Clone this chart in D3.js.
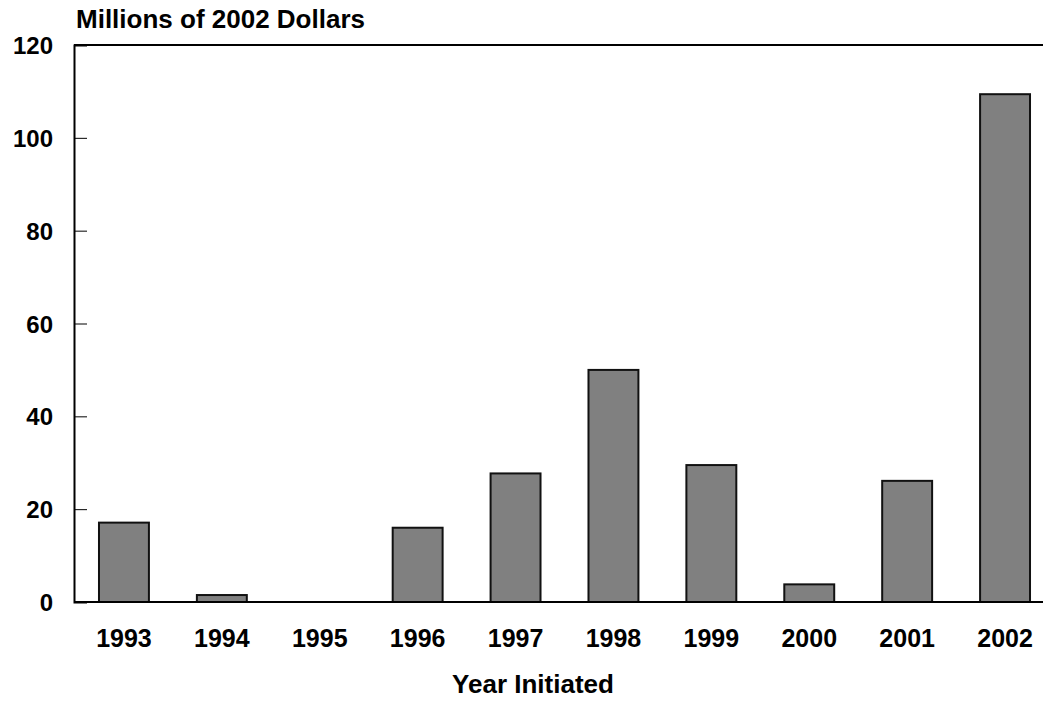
<!DOCTYPE html>
<html>
<head>
<meta charset="utf-8">
<script src="https://cdn.jsdelivr.net/npm/d3@7"></script>
<style>
  html, body { margin: 0; padding: 0; background: #fff; }
  svg { display: block; }
  text { font-family: "Liberation Sans", Arial, sans-serif; font-weight: bold; fill: #000; }
</style>
</head>
<body>
<script>
const years = ["1993","1994","1995","1996","1997","1998","1999","2000","2001","2002"];
const values = [17.1, 1.5, 0, 16.0, 27.7, 50.0, 29.5, 3.8, 26.1, 109.4];
const yTicks = [0, 20, 40, 60, 80, 100, 120];
const yTitle = "Millions of 2002 Dollars";
const xTitle = "Year Initiated";

const W = 1043, H = 702;
const svg = d3.select("body").append("svg").attr("width", W).attr("height", H);

const plotLeft = 74, plotTop = 45, plotBottom = 602;
const x = d3.scaleBand().domain(years).range([75, 1054]).paddingInner(0.49).paddingOuter(0.245);
const y = d3.scaleLinear().domain([0, 120]).range([plotBottom, plotTop]);

// bars
svg.append("g").selectAll("rect").data(years).join("rect")
  .attr("x", d => x(d))
  .attr("y", (d, i) => y(values[i]))
  .attr("width", x.bandwidth())
  .attr("height", (d, i) => y(0) - y(values[i]))
  .attr("fill", "#808080")
  .attr("stroke", "#111")
  .attr("stroke-width", 2);

// frame lines
svg.append("line").attr("x1", plotLeft).attr("x2", W).attr("y1", plotTop).attr("y2", plotTop)
  .attr("stroke", "#000").attr("stroke-width", 2);
svg.append("line").attr("x1", plotLeft).attr("x2", W).attr("y1", plotBottom).attr("y2", plotBottom)
  .attr("stroke", "#000").attr("stroke-width", 2);

// y axis
const yAxis = d3.axisLeft(y).tickValues(yTicks).tickSize(-13).tickPadding(21);
const gy = svg.append("g").attr("transform", `translate(${plotLeft},0)`).call(yAxis);
gy.select(".domain").attr("stroke", "#000").attr("stroke-width", 2);
gy.selectAll(".tick line").attr("stroke", "#000").attr("stroke-width", 1);
gy.selectAll(".tick text").attr("font-size", 24).attr("font-family", "Liberation Sans, Arial, sans-serif")
  .attr("font-weight", "bold").attr("fill", "#000").attr("dy", "0.36em");
gy.selectAll(".tick").filter(d => d === 0 || d === 120).select("line").remove();

// x axis labels
const xAxis = d3.axisBottom(x).tickSize(0).tickPadding(0);
const gx = svg.append("g").attr("transform", `translate(0,${plotBottom})`).call(xAxis);
gx.select(".domain").remove();
gx.selectAll(".tick text").attr("font-size", 25).attr("font-family", "Liberation Sans, Arial, sans-serif")
  .attr("font-weight", "bold").attr("fill", "#000").attr("dy", null).attr("y", 45);

// titles
svg.append("text").attr("x", 76).attr("y", 28).attr("font-size", 26).text(yTitle);
svg.append("text").attr("x", 533).attr("y", 693).attr("text-anchor", "middle").attr("font-size", 26).text(xTitle);
</script>
</body>
</html>
